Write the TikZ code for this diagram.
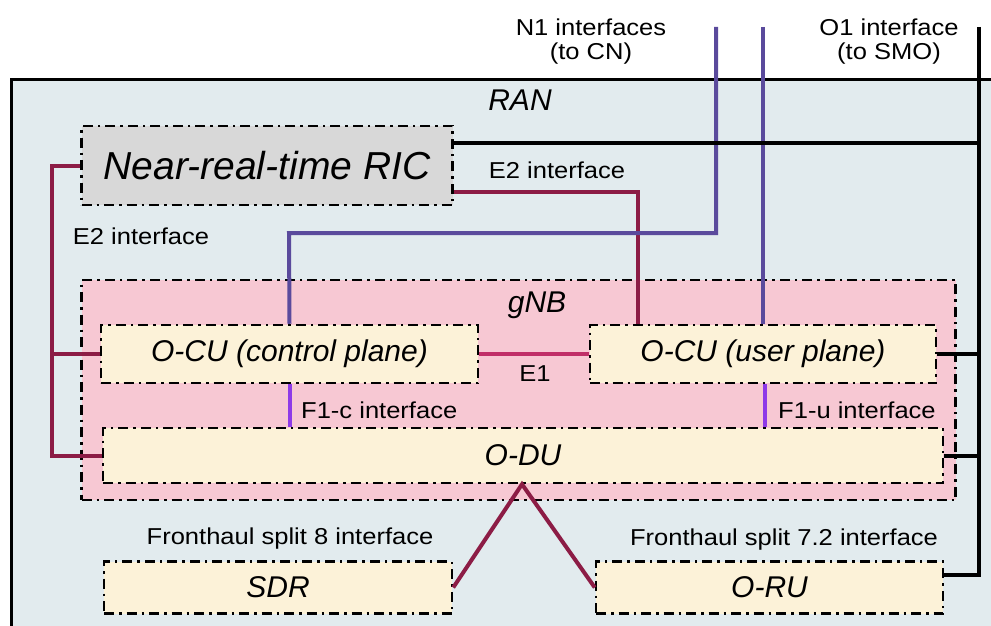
\documentclass[tikz,border=0pt]{standalone}
\usepackage{fontspec}
\setmainfont{Liberation Sans}
\newfontfamily\lblfont[FakeStretch=1.11]{Liberation Sans}
\usetikzlibrary{calc}

\definecolor{ranfill}{HTML}{E2EBEE}
\definecolor{ricfill}{HTML}{D8D8D8}
\definecolor{gnbfill}{HTML}{F7C8D3}
\definecolor{cream}{HTML}{FCF2D8}
\definecolor{e2red}{HTML}{8C1C45}
\definecolor{e1red}{HTML}{C02E68}
\definecolor{n1purple}{HTML}{5A4A9C}
\definecolor{f1violet}{HTML}{8E3AE8}

\tikzset{
  dashdot box/.style={draw=black, line width=2.5pt,
    dash pattern=on 10pt off 5pt on 2.5pt off 5pt, inner sep=0pt},
  unit/.style={dashdot box, fill=cream,
    font=\fontsize{30}{34}\selectfont\itshape},
  title/.style={inner sep=0pt, font=\fontsize{30}{34}\selectfont\itshape},
  lbl/.style={inner sep=0pt, align=center,
    font=\lblfont\fontsize{23}{24}\selectfont},
  wire/.style={line width=4pt},
  e2wire/.style={wire, draw=e2red},
  e1wire/.style={wire, draw=e1red},
  n1wire/.style={wire, draw=n1purple},
  f1wire/.style={wire, draw=f1violet},
  o1wire/.style={wire, draw=black},
}

\begin{document}
\begin{tikzpicture}[x=1pt, y=-1pt]
  \useasboundingbox (0,0) rectangle (991,626);
  \clip (0,0) rectangle (991,626);

  % RAN domain
  \fill[ranfill] (11,80) rectangle (1010,650);
  \draw[line width=3pt] (11,650) -- (11,80) -- (1010,80);
  \node[title] (ranlbl) at (520,100) {RAN};

  % Near-real-time RIC
  \node[dashdot box, fill=ricfill, minimum width=371pt, minimum height=79pt,
        font=\fontsize{39}{44}\selectfont\itshape] (ric) at (267,165.5)
        {Near-real-time RIC};

  % gNB container
  \node[dashdot box, fill=gnbfill, minimum width=874pt, minimum height=220pt]
        (gnb) at (518.5,390) {};
  \node[title] (gnblbl) at (537,305) {gNB};

  % free ends of the external interfaces
  \coordinate (n1a) at (716,27);
  \coordinate (n1b) at (763,27);
  \coordinate (o1)  at (979,27);
  \coordinate (e2l) at (52,166);

  % units inside the gNB and below
  \node[unit, minimum width=377pt, minimum height=58pt] (ocucp) at (289.5,354) {O-CU (control plane)};
  \node[unit, minimum width=346pt, minimum height=58pt] (ocuup) at (763,354) {O-CU (user plane)};
  \node[unit, minimum width=840pt, minimum height=55pt] (odu) at (523,455.5) {O-DU};
  \node[unit, minimum width=348pt, minimum height=52pt] (sdr) at (278,587.5) {SDR};
  \node[unit, minimum width=347pt, minimum height=52pt] (oru) at (769.5,587.5) {O-RU};

  % E2 interfaces
  \coordinate (rice2) at ([yshift=-26.5pt]ric.east);
  \draw[e2wire] (rice2) -| (ocuup.north -| 638,0);
  \draw[e2wire] (ric.west |- e2l) -- (e2l) |- (odu.west);
  \draw[e2wire] (ocucp.west) -- (ocucp.west -| e2l);

  % N1 interfaces
  \draw[n1wire] (n1a) |- (289,233) -- (ocucp.north);
  \draw[n1wire] (n1b) -- (ocuup.north);

  % O1 interface
  \coordinate (rico1) at ([yshift=22.5pt]ric.east);
  \coordinate (oruo1) at ([yshift=12.5pt]oru.east);
  \draw[o1wire] (o1) |- (oruo1);
  \draw[o1wire] (rico1) -- (rico1 -| o1);
  \draw[o1wire] (ocuup.east) -- (ocuup.east -| o1);
  \draw[o1wire] (odu.east) -- (odu.east -| o1);

  % E1 and F1
  \draw[e1wire] (ocucp.east) -- (ocuup.west);
  \draw[f1wire] (ocucp.south) -- (ocucp.south |- odu.north);
  \draw[f1wire] ([xshift=1.5pt]ocuup.south) -- ([xshift=1.5pt]ocuup.south |- odu.north);

  % fronthaul
  \draw[e2wire, line join=miter] (sdr.east) -- ([xshift=-1pt]odu.south) -- (oru.west);

  % interface labels
  \node[lbl] (n1lbl) at (591,42) {N1 interfaces\\(to CN)};
  \node[lbl] (o1lbl) at (889,42) {O1 interface\\(to SMO)};
  \node[lbl] (e2top) at (557,170) {E2 interface};
  \node[lbl] (e2left) at (141,236) {E2 interface};
  \node[lbl] (e1lbl) at (535,374) {E1};
  \node[lbl, anchor=west] (f1clbl) at (301,410) {F1-c interface};
  \node[lbl, anchor=west] (f1ulbl) at (778,410) {F1-u interface};
  \node[lbl] (fh8) at (290,539) {Fronthaul split 8 interface};
  \node[lbl] (fh72) at (784,540) {Fronthaul split 7.2 interface};
\end{tikzpicture}
\end{document}
